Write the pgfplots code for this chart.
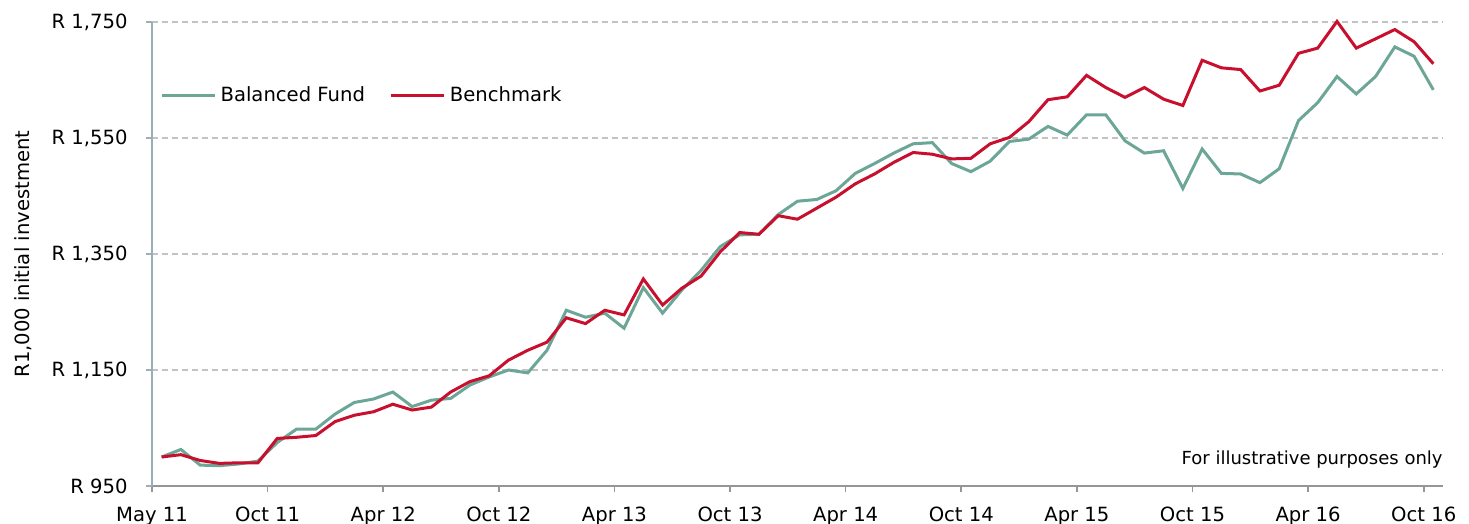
\documentclass[border=0pt]{standalone}
\usepackage{fontspec}
\setmainfont{DejaVu Sans}
\usepackage{pgfplots}
\usepackage{pgfplotstable}
\pgfplotsset{compat=1.18}
\definecolor{fundteal}{RGB}{108,166,151}
\definecolor{benchred}{RGB}{200,16,46}
\definecolor{yaxisc}{RGB}{155,175,185}
\definecolor{xaxisc}{RGB}{150,150,150}
\definecolor{gridc}{RGB}{195,195,195}

\pgfplotstableread{
n fund bench
0 1000 1000
1 1013 1004
2 986 994
3 985 989
4 988 990
5 993 990
6 1025 1032
7 1048 1034
8 1048 1037
9 1074 1061
10 1094 1072
11 1100 1078
12 1112 1091
13 1087 1081
14 1098 1086
15 1101 1112
16 1124 1130
17 1138 1140
18 1150 1167
19 1145 1184
20 1184 1198
21 1253 1240
22 1241 1230
23 1248 1253
24 1222 1245
25 1292 1307
26 1248 1262
27 1288 1291
28 1322 1312
29 1363 1354
30 1383 1387
31 1384 1384
32 1418 1416
33 1441 1410
34 1444 1429
35 1459 1448
36 1489 1471
37 1506 1488
38 1524 1508
39 1540 1525
40 1542 1522
41 1506 1514
42 1492 1515
43 1510 1540
44 1544 1551
45 1548 1578
46 1570 1616
47 1555 1621
48 1590 1658
49 1590 1637
50 1545 1620
51 1524 1637
52 1528 1617
53 1463 1606
54 1531 1684
55 1489 1671
56 1488 1668
57 1473 1631
58 1497 1641
59 1580 1696
60 1611 1705
61 1656 1751
62 1626 1705
63 1656 1721
64 1707 1737
65 1691 1716
66 1633 1678
}\datatable

\begin{document}
\fontsize{9.8}{12}\selectfont
\begin{tikzpicture}
\useasboundingbox (-76pt,-19pt) rectangle (658.5pt,243pt);
\begin{axis}[
  at={(0,0)}, anchor=south west,
  scale only axis, width=645.5pt, height=232pt,
  xmin=-0.5, xmax=66.5, ymin=950, ymax=1750,
  axis x line*=bottom, axis y line*=left,
  x axis line style={color=xaxisc, line width=0.8pt, -},
  y axis line style={color=yaxisc, line width=0.8pt, -},
  tick align=outside, major tick length=3pt,
  xtick style={color=xaxisc, line width=0.8pt},
  ytick style={color=yaxisc, line width=0.8pt},
  xtick={-0.5,5.5,11.5,17.5,23.5,29.5,35.5,41.5,47.5,53.5,59.5,65.5},
  xticklabels={May 11,Oct 11,Apr 12,Oct 12,Apr 13,Oct 13,Apr 14,Oct 14,Apr 15,Oct 15,Apr 16,Oct 16},
  ytick={950,1150,1350,1550,1750},
  yticklabels={{R 950},{R 1,150},{R 1,350},{R 1,550},{R 1,750}},
  xticklabel style={anchor=base, yshift=-15pt, inner sep=0pt},
  yticklabel style={anchor=east, inner sep=0pt, xshift=-9pt},
  ymajorgrids,
  major grid style={color=gridc, dash pattern=on 3pt off 2pt, line width=0.6pt},
  ylabel={R1,000 initial investment},
  every axis y label/.style={at={(rel axis cs:0,0.5)}, xshift=-64.5pt, rotate=90, anchor=center},
  legend style={at={(rel axis cs:0.0017,0.841)}, anchor=west, draw=none, fill=none,
    legend columns=2, /tikz/every even column/.append style={column sep=10.5pt},
    font=\fontsize{9.8}{12}\selectfont},
  legend cell align=left,
  legend image code/.code={\draw[#1] (0pt,0pt) -- (26.5pt,0pt);},
  clip=false,
]
\addplot[color=fundteal, line width=1.5pt] table[x=n, y=fund] {\datatable};
\addlegendentry{Balanced Fund}
\addplot[color=benchred, line width=1.5pt] table[x=n, y=bench] {\datatable};
\addlegendentry{Benchmark}
\node[anchor=base east, inner sep=0pt, font=\fontsize{9}{11}\selectfont] at (rel axis cs:1,0) [yshift=10.5pt] {For illustrative purposes only};
\end{axis}
\end{tikzpicture}
\end{document}
